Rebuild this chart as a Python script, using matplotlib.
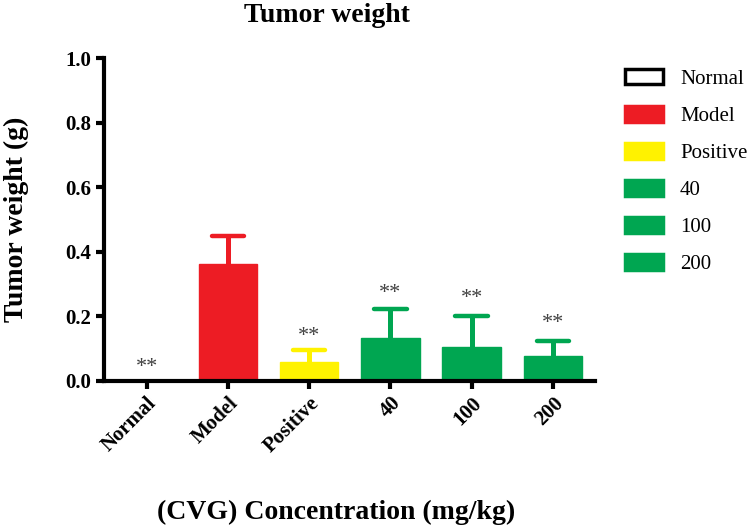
import matplotlib
matplotlib.use('Agg')
import numpy as np
import matplotlib.pyplot as plt
from matplotlib.patches import Patch

# data
groups = ['Normal', 'Model', 'Positive', '40', '100', '200']
means = [0.0, 0.362, 0.057, 0.131, 0.103, 0.076]
errs = [0.0, 0.085, 0.038, 0.092, 0.097, 0.048]
stars = ['**', '', '**', '**', '**', '**']
stars_y = [0.062, 0.0, 0.160, 0.293, 0.277, 0.198]
colors = ['white', '#ed1c24', '#fff200', '#00a651', '#00a651', '#00a651']
edges = ['black', '#ed1c24', '#fff200', '#00a651', '#00a651', '#00a651']

plt.rcParams['font.family'] = ['Liberation Serif', 'DejaVu Serif']

fig = plt.figure(figsize=(7.5, 5.26), dpi=100)
ax = fig.add_axes([0.1387, 0.2766, 0.6547, 0.6131])

x = np.arange(len(groups))
for i in range(len(groups)):
    ax.bar(x[i], means[i], width=0.72, color=colors[i], edgecolor=edges[i],
           linewidth=1.0, zorder=2)
    if errs[i] > 0:
        top = means[i] + errs[i]
        # upper error only, like prism
        ax.plot([x[i], x[i]], [means[i], top], color=edges[i], lw=3.6,
                solid_capstyle='butt', zorder=1)
        ax.plot([x[i] - 0.2, x[i] + 0.2], [top, top], color=edges[i], lw=3.2,
                solid_capstyle='round', zorder=1)
    if stars[i]:
        ax.annotate(stars[i], (x[i], stars_y[i]), xytext=(0, -8.5),
                    textcoords='offset points', ha='center', va='baseline',
                    fontsize=16, color='#404040')

ax.set_xlim(-0.524, 5.517)
ax.set_ylim(0, 1.0)
yt = np.arange(0, 1.01, 0.2)
ax.set_yticks(yt)
ax.set_yticklabels(['%.1f' % v for v in yt], fontsize=15, fontweight='bold')
ax.set_xticks(x)
ax.set_xticklabels(groups, rotation=45, ha='right', rotation_mode='anchor',
                   fontsize=15, fontweight='bold')
for s in ['top', 'right']:
    ax.spines[s].set_visible(False)
for s in ['left', 'bottom']:
    ax.spines[s].set_linewidth(3)
ax.tick_params(width=3, length=6, direction='out', pad=3)

fig.text(327/750., 1 - 22/526., 'Tumor weight', fontsize=20, fontweight='bold',
         ha='center', va='baseline')
fig.text(16/750., 0.5827, 'Tumor weight (g)', fontsize=20, fontweight='bold',
         ha='center', va='center', rotation=90)
fig.text(336/750., 1 - 519/526., '(CVG) Concentration (mg/kg)', fontsize=20,
         fontweight='bold', ha='center', va='baseline')

handles = [Patch(facecolor=colors[i], edgecolor=('black' if i == 0 else colors[i]),
                 linewidth=2.5, joinstyle='round') for i in range(len(groups))]
fig.legend(handles, groups, loc='upper left', bbox_to_anchor=(0.8333, 0.869),
           frameon=False, fontsize=15, handlelength=1.82, handleheight=0.77,
           labelspacing=0.82, handletextpad=0.82, borderpad=0, borderaxespad=0)

plt.savefig('out.png', dpi=100)
